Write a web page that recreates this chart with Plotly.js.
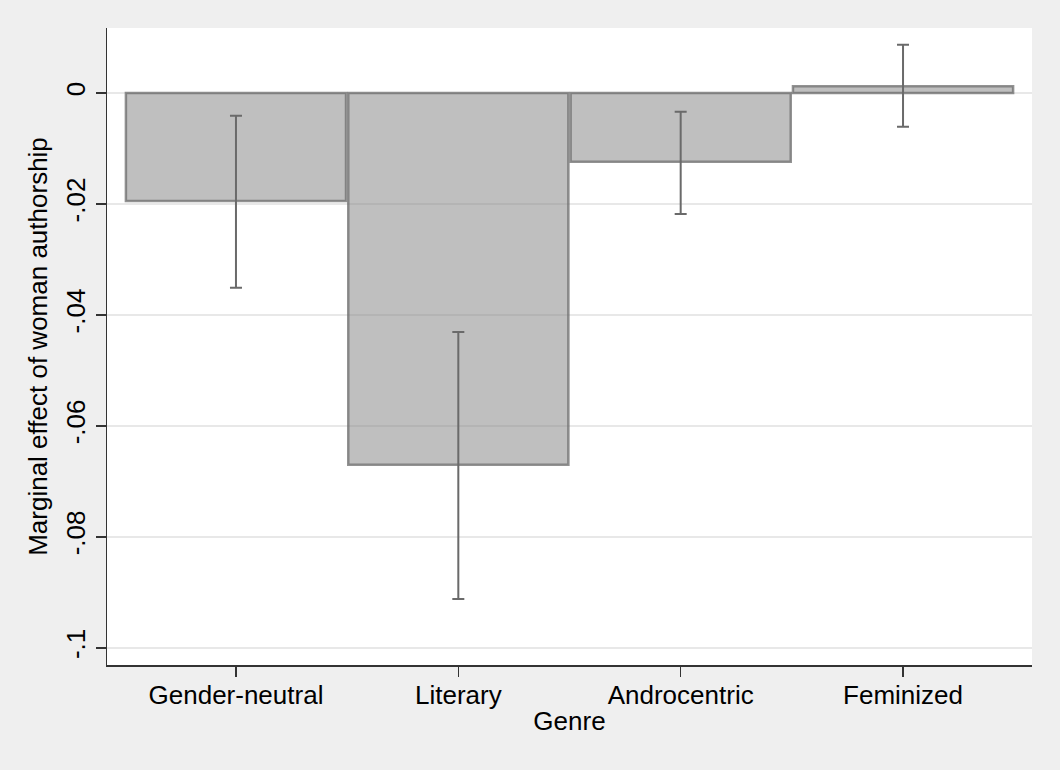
<!DOCTYPE html>
<html>
<head>
<meta charset="utf-8">
<script src="https://cdn.plot.ly/plotly-3.0.1.min.js"></script>
<style>html,body{margin:0;padding:0;background:#efefef;}</style>
</head>
<body>
<div id="chart" style="width:1060px;height:770px;"></div>
<script>
const genres = ["Gender-neutral", "Literary", "Androcentric", "Feminized"];
const effects = [-0.0195, -0.0670, -0.0124, 0.0012];
const ciUpper = [-0.0041, -0.0431, -0.0034, 0.0087];
const ciLower = [-0.0351, -0.0912, -0.0218, -0.0061];
const yTickVals = [0, -0.02, -0.04, -0.06, -0.08, -0.1];
const yTickText = ["0", "-.02", "-.04", "-.06", "-.08", "-.1"];

const plus = effects.map((v, i) => ciUpper[i] - v);
const minus = effects.map((v, i) => v - ciLower[i]);

const trace = {
  type: "bar",
  x: genres.map((g, i) => i),
  y: effects,
  width: 0.99,
  marker: {color: "rgba(128,128,128,0.5)", line: {color: "rgba(110,110,110,0.75)", width: 2.5}},
  error_y: {type: "data", symmetric: false, array: plus, arrayminus: minus, color: "#6a6a6a", thickness: 2, width: 6},
  hoverinfo: "none"
};

const layout = {
  width: 1060, height: 770,
  paper_bgcolor: "#efefef",
  plot_bgcolor: "#ffffff",
  margin: {l: 107, r: 28, t: 28, b: 105},
  showlegend: false,
  font: {family: "Liberation Sans, Arial, sans-serif", color: "#000", size: 26},
  xaxis: {
    range: [-0.58, 3.58],
    tickvals: [0, 1, 2, 3],
    ticktext: genres,
    ticks: "outside", ticklen: 10, tickwidth: 1.5, tickcolor: "#333",
    ticklabelstandoff: -4,
    showline: true, linecolor: "#333", linewidth: 1.5,
    showgrid: false, zeroline: false,
    tickfont: {size: 26},
    title: {text: "Genre", font: {size: 26}, standoff: 3}
  },
  yaxis: {
    range: [-0.1031, 0.0117],
    tickvals: yTickVals,
    ticktext: yTickText,
    tickangle: -90,
    ticks: "outside", ticklen: 10, tickwidth: 1.5, tickcolor: "#333",
    showline: true, linecolor: "#333", linewidth: 1.5,
    showgrid: true, gridcolor: "#e8e8e8", gridwidth: 2,
    zeroline: false,
    tickfont: {size: 26},
    title: {text: "Marginal effect of woman authorship", font: {size: 26}, standoff: 6}
  }
};

Plotly.newPlot("chart", [trace], layout, {displayModeBar: false, staticPlot: true});
</script>
</body>
</html>
